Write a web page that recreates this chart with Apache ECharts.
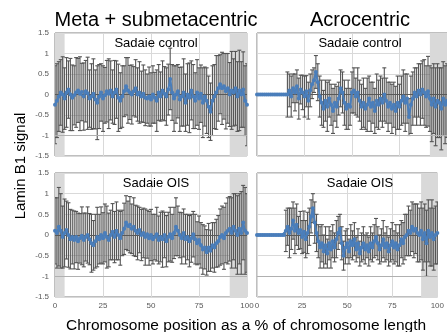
<!DOCTYPE html>
<html><head><meta charset="utf-8">
<script src="https://cdn.jsdelivr.net/npm/echarts@6/dist/echarts.min.js"></script>
<style>html,body{margin:0;padding:0;background:#fff}#c{width:447px;height:332px}</style>
</head><body><div id="c"></div>
<script>
var positions = [0,1,2,3,4,5,6,7,8,9,10,11,12,13,14,15,16,17,18,19,20,21,22,23,24,25,26,27,28,29,30,31,32,33,34,35,36,37,38,39,40,41,42,43,44,45,46,47,48,49,50,51,52,53,54,55,56,57,58,59,60,61,62,63,64,65,66,67,68,69,70,71,72,73,74,75,76,77,78,79,80,81,82,83,84,85,86,87,88,89,90,91,92,93,94,95,96,97,98,99,100];
var xTicks = [0, 25, 50, 75, 100];
var panelTitles = ["Meta + submetacentric", "Acrocentric"];
var panelSubtitles = ["Sadaie control", "Sadaie control", "Sadaie OIS", "Sadaie OIS"];
var yAxisTitle = "Lamin B1 signal";
var xAxisTitle = "Chromosome position as a % of chromosome length";

// Meta + submetacentric, Sadaie control
var tlMean = [-0.25,-0.15,-0.05,0.05,0.0,-0.1,0.05,0.12,0.0,-0.08,
  -0.02,0.05,0.1,0.02,0.06,-0.05,0.08,0.03,-0.1,-0.05,
  0.02,-0.12,-0.2,-0.05,0.05,-0.1,-0.02,0.08,0.02,0.1,
  -0.05,0.05,0.12,-0.08,-0.15,-0.05,0.08,0.2,0.1,0.05,
  0.0,0.08,0.15,0.0,0.05,-0.05,0.02,-0.08,-0.1,-0.05,
  -0.12,0.0,-0.08,-0.15,0.05,-0.05,0.1,0.02,-0.05,0.12,
  0.38,0.05,-0.1,0.0,0.08,-0.12,-0.05,0.05,-0.2,0.0,
  -0.08,0.1,-0.05,-0.15,0.05,-0.1,0.02,-0.2,-0.05,-0.15,
  -0.3,-0.42,-0.15,-0.05,0.05,0.15,0.25,0.15,0.2,0.08,
  0.15,0.0,0.1,0.05,0.15,-0.05,0.1,0.0,0.12,-0.15,
  -0.25];
var tlSd = [0.95,0.9,0.85,0.8,0.92,0.75,0.85,0.7,0.88,0.8,
  0.72,0.85,0.78,0.9,0.7,0.82,0.75,0.88,0.7,0.8,
  0.85,0.72,0.9,0.78,0.7,0.8,0.68,0.75,0.85,0.72,
  0.65,0.78,0.7,0.82,0.68,0.75,0.62,0.7,0.8,0.66,
  0.72,0.6,0.7,0.65,0.75,0.62,0.7,0.68,0.6,0.72,
  0.65,0.7,0.62,0.75,0.68,0.6,0.72,0.66,0.7,0.62,
  0.75,0.68,0.8,0.7,0.65,0.78,0.72,0.82,0.7,0.75,
  0.85,0.72,0.78,0.68,0.8,0.75,0.7,0.85,0.72,0.8,
  0.75,0.7,0.85,0.78,0.9,0.8,0.72,0.88,0.8,0.92,
  0.85,0.78,0.95,0.82,0.9,0.85,0.98,0.8,0.92,0.85,
  1.0];

// Acrocentric, Sadaie control
var trMean = [0,0,0,0,0,0,0,0,0,0,
  0,0,0,0,0,0,0.0,0.1,-0.05,0.15,
  0.05,0.2,-0.1,0.12,0.05,-0.05,0.08,-0.15,0.1,0.25,
  0.35,0.55,0.3,-0.05,-0.2,-0.35,-0.15,-0.3,-0.1,-0.25,
  -0.4,-0.2,-0.3,-0.1,0.15,0.05,-0.2,-0.35,-0.25,-0.3,
  0.05,0.1,-0.05,0.05,-0.15,-0.3,-0.2,-0.35,-0.25,-0.1,
  -0.3,-0.2,-0.4,-0.15,-0.25,-0.1,-0.2,0.0,-0.15,-0.3,
  -0.2,-0.35,-0.25,-0.4,-0.2,-0.3,-0.15,-0.05,-0.2,-0.1,
  -0.55,-0.25,-0.1,0.05,-0.05,0.1,0.0,0.12,0.05,-0.05,
  0.08,-0.1,-0.25,-0.1,-0.3,-0.15,-0.2,-0.35,-0.1,-0.25,
  -0.15];
var trSd = [null,null,null,null,null,null,null,null,null,null,
  null,null,null,null,null,null,0.55,0.4,0.5,0.35,
  0.45,0.4,0.5,0.35,0.42,0.5,0.38,0.45,0.4,0.35,
  0.3,0.4,0.45,0.5,0.55,0.45,0.5,0.6,0.45,0.5,
  0.55,0.45,0.5,0.4,0.45,0.5,0.55,0.5,0.6,0.45,
  0.5,0.55,0.45,0.6,0.5,0.55,0.6,0.5,0.65,0.55,
  0.6,0.5,0.55,0.65,0.6,0.55,0.6,0.65,0.55,0.6,
  0.5,0.6,0.55,0.6,0.65,0.55,0.6,0.65,0.7,0.6,
  0.45,0.7,0.65,0.6,0.7,0.65,0.75,0.7,0.8,0.75,
  0.85,0.8,0.9,0.85,0.95,0.9,0.85,1.0,0.9,0.95,
  0.9];

// Meta + submetacentric, Sadaie OIS
var blMean = [0.1,0.05,0.2,0.1,-0.05,0.05,0.12,0.0,-0.1,-0.05,
  -0.12,-0.05,-0.15,-0.08,-0.02,-0.12,-0.05,0.0,-0.1,-0.2,
  -0.25,-0.15,-0.05,-0.1,0.0,-0.08,0.05,-0.05,-0.12,0.0,
  0.08,-0.05,0.1,0.0,-0.08,0.05,0.15,0.3,0.22,0.25,
  0.15,0.2,0.1,0.05,0.12,0.0,0.05,-0.05,0.02,-0.08,
  0.0,-0.1,-0.05,0.02,-0.12,-0.05,-0.1,0.0,-0.15,-0.05,
  0.02,-0.08,0.05,0.2,0.1,0.0,-0.08,0.05,-0.1,-0.05,
  -0.15,-0.08,0.02,-0.1,-0.2,-0.12,-0.25,-0.35,-0.3,-0.42,
  -0.3,-0.38,-0.25,-0.3,-0.2,-0.15,-0.05,0.0,-0.08,0.05,
  0.1,0.15,0.05,0.2,0.1,0.0,0.15,0.05,0.3,0.1,
  0.05];
var blSd = [0.8,0.85,0.95,0.9,0.75,0.82,0.7,0.78,0.72,0.65,
  0.7,0.62,0.68,0.6,0.7,0.65,0.58,0.68,0.62,0.7,
  0.6,0.65,0.72,0.6,0.68,0.62,0.7,0.75,0.65,0.6,
  0.68,0.62,0.7,0.6,0.65,0.55,0.62,0.65,0.6,0.68,
  0.6,0.7,0.62,0.65,0.55,0.62,0.6,0.68,0.58,0.65,
  0.62,0.6,0.55,0.65,0.58,0.6,0.68,0.55,0.62,0.6,
  0.65,0.58,0.62,0.7,0.6,0.55,0.62,0.58,0.6,0.55,
  0.62,0.58,0.55,0.6,0.52,0.58,0.55,0.6,0.52,0.55,
  0.58,0.5,0.55,0.6,0.58,0.62,0.68,0.7,0.75,0.72,
  0.8,0.78,0.85,0.8,0.9,0.95,0.85,1.0,0.9,1.05,
  0.95];

// Acrocentric, Sadaie OIS
var brMean = [0,0,0,0,0,0,0,0,0,0,
  0,0,0,0,0,0,0.1,0.2,0.05,0.15,
  0.35,0.1,0.25,0.05,0.12,-0.05,0.08,-0.1,0.05,0.2,
  0.45,0.65,0.3,0.05,-0.15,-0.3,-0.2,-0.4,-0.25,-0.45,
  -0.2,-0.35,-0.15,-0.3,-0.1,0.05,0.15,-0.2,-0.5,-0.3,
  -0.2,-0.4,-0.15,-0.25,-0.1,-0.35,-0.2,-0.45,-0.3,-0.2,
  -0.35,-0.25,-0.4,-0.2,-0.3,-0.15,-0.05,-0.2,-0.35,-0.25,
  -0.1,-0.3,-0.2,-0.4,-0.25,-0.15,-0.3,-0.2,-0.35,-0.25,
  -0.1,-0.2,-0.05,0.0,0.1,0.05,0.2,0.1,0.15,0.05,
  0.0,0.1,-0.1,0.05,-0.2,0.1,-0.05,0.05,-0.1,0.0,
  0.05];
var brSd = [null,null,null,null,null,null,null,null,null,null,
  null,null,null,null,null,null,0.5,0.45,0.6,0.5,
  0.45,0.55,0.5,0.4,0.45,0.4,0.5,0.45,0.5,0.45,
  0.4,0.35,0.5,0.45,0.4,0.5,0.45,0.4,0.45,0.35,
  0.4,0.45,0.4,0.35,0.45,0.4,0.35,0.4,0.35,0.4,
  0.35,0.3,0.4,0.35,0.4,0.3,0.35,0.3,0.35,0.4,
  0.35,0.3,0.35,0.4,0.35,0.4,0.45,0.4,0.35,0.4,
  0.45,0.35,0.4,0.35,0.4,0.45,0.4,0.45,0.4,0.5,
  0.45,0.5,0.55,0.5,0.6,0.55,0.6,0.65,0.6,0.7,
  0.65,0.7,0.75,0.7,0.8,0.75,0.7,0.8,0.75,0.7,
  0.75];

var shadeLeft = [[0, 5], [91, 100]];
var shadeRight = [[91, 100]];

var panels = [
  {mean: tlMean, sd: tlSd, shade: shadeLeft, left: 55, top: 33, width: 192, height: 123, yLabels: true, xLabels: false},
  {mean: trMean, sd: trSd, shade: shadeRight, left: 257, top: 33, width: 196, height: 123, yLabels: false, xLabels: false},
  {mean: blMean, sd: blSd, shade: shadeLeft, left: 55, top: 173, width: 192, height: 124, yLabels: true, xLabels: true},
  {mean: brMean, sd: brSd, shade: shadeRight, left: 257, top: 173, width: 196, height: 124, yLabels: false, xLabels: true}
];

var FONT = '"Liberation Sans", Arial, sans-serif';
var grids = [], xAxes = [], yAxes = [], series = [], titles = [];

panels.forEach(function (p, i) {
  grids.push({left: p.left, top: p.top, width: p.width, height: p.height, show: true,
    borderColor: '#7f7f7f', borderWidth: 1, backgroundColor: 'transparent'});
  xAxes.push({type: 'value', gridIndex: i, min: 0, max: 100, interval: 25,
    axisLine: {show: false}, axisTick: {show: false},
    axisLabel: {show: p.xLabels, color: '#595959', fontSize: 8, fontFamily: FONT, margin: 5},
    splitLine: {show: true, lineStyle: {color: '#d9d9d9', width: 1}}});
  yAxes.push({type: 'value', gridIndex: i, min: -1.5, max: 1.5, interval: 0.5,
    axisLine: {show: false}, axisTick: {show: false},
    axisLabel: {show: p.yLabels, color: '#595959', fontSize: 8, fontFamily: FONT, margin: 6},
    splitLine: {show: true, lineStyle: {color: '#d9d9d9', width: 1}}});

  var errData = [], lineData = [];
  for (var k = 0; k < positions.length; k++) {
    errData.push([positions[k], p.mean[k], p.sd[k]]);
    lineData.push([positions[k], p.mean[k]]);
  }
  series.push({type: 'line', xAxisIndex: i, yAxisIndex: i, data: [], z: 1, silent: true,
    markArea: {silent: true, itemStyle: {color: '#d9d9d9'},
      data: p.shade.map(function (s) { return [{xAxis: s[0]}, {xAxis: s[1]}]; })},
    markLine: {silent: true, symbol: 'none', label: {show: false},
      data: [{yAxis: 0, lineStyle: {color: '#595959', width: 1, type: 'solid'}},
             {yAxis: -1, lineStyle: {color: '#b0b0b0', width: 1, type: 'solid'}}]}});
  series.push({type: 'custom', xAxisIndex: i, yAxisIndex: i, z: 3, clip: true, data: errData,
    encode: {x: 0, y: 1},
    renderItem: function (params, api) {
      var s = api.value(2);
      if (s === null || s === undefined || isNaN(s) || s === 0) return;
      var x = api.value(0), m = api.value(1);
      var t = api.coord([x, m + s]), b = api.coord([x, m - s]);
      var w = 2, st = {stroke: '#555555', lineWidth: 1.1};
      return {type: 'group', children: [
        {type: 'line', shape: {x1: t[0], y1: t[1], x2: b[0], y2: b[1]}, style: st},
        {type: 'line', shape: {x1: t[0] - w, y1: t[1], x2: t[0] + w, y2: t[1]}, style: st},
        {type: 'line', shape: {x1: b[0] - w, y1: b[1], x2: b[0] + w, y2: b[1]}, style: st}
      ]};
    }});
  series.push({type: 'line', xAxisIndex: i, yAxisIndex: i, z: 5, data: lineData,
    symbol: 'circle', symbolSize: 4, showSymbol: true,
    lineStyle: {color: '#4a7ebb', width: 2}, itemStyle: {color: '#4a7ebb'}});

  titles.push({text: panelSubtitles[i], left: p.left + p.width / 2, top: p.top - 1, textAlign: 'center',
    textStyle: {fontSize: 13, fontWeight: 'normal', color: '#000', fontFamily: FONT}});
});

titles.push({text: panelTitles[0], left: 151, top: 5, textAlign: 'center',
  textStyle: {fontSize: 20, fontWeight: 'normal', color: '#000', fontFamily: FONT}});
titles.push({text: panelTitles[1], left: 355, top: 5, textAlign: 'center',
  textStyle: {fontSize: 20, fontWeight: 'normal', color: '#000', fontFamily: FONT}});
titles.push({text: xAxisTitle, left: 241, top: 313, textAlign: 'center',
  textStyle: {fontSize: 15.5, fontWeight: 'normal', color: '#000', fontFamily: FONT}});

var chart = echarts.init(document.getElementById('c'), null, {renderer: 'canvas'});
chart.setOption({
  animation: false,
  backgroundColor: '#fff',
  title: titles,
  grid: grids, xAxis: xAxes, yAxis: yAxes, series: series,
  graphic: [{type: 'text', x: 21, y: 166, rotation: Math.PI / 2,
    style: {text: yAxisTitle, font: '15px "Liberation Sans", Arial, sans-serif', fill: '#000',
      align: 'center', verticalAlign: 'middle'}}]
});
</script></body></html>
